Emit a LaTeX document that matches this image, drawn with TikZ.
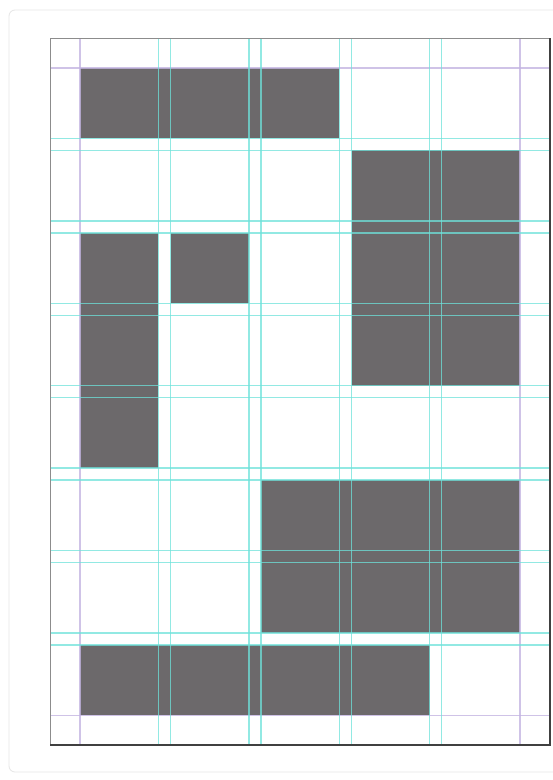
\documentclass[tikz,border=0pt]{standalone}
\begin{document}
\begin{tikzpicture}[x=1pt,y=-1pt,
  block/.style={fill=blockgray,draw=none},
  gridline/.style={draw=gridcyan,line width=1.4pt,opacity=0.75},
  marginline/.style={draw=marginlav,line width=1.1pt,opacity=0.8}]
\definecolor{blockgray}{RGB}{108,105,107}
\definecolor{gridcyan}{RGB}{110,226,218}
\definecolor{marginlav}{RGB}{195,180,225}
\definecolor{framegray}{RGB}{230,230,230}
\useasboundingbox (0,0) rectangle (553,780);
\fill[white] (0,0) rectangle (553,780);
% outer faint frame
\draw[framegray,line width=0.8pt,rounded corners=6pt] (9,10) rectangle (575,772);
% page
\fill[white] (50,38) rectangle (550,745);
% blocks
\fill[block] (80,68) rectangle (339,138.4);
\fill[block] (352,150.4) rectangle (520,385.6);
\fill[block] (80,232.8) rectangle (158,468);
\fill[block] (171,232.8) rectangle (249,303.2);
\fill[block] (261,480) rectangle (520,632.8);
\fill[block] (80,644.8) rectangle (430,715.2);
% margin guides
\foreach \x in {80,520} \draw[marginline] (\x,38) -- (\x,745);
\foreach \y in {68,715.2} \draw[marginline] (50,\y) -- (550,\y);
% column guides
\foreach \x in {158.4,170.4,248.8,260.8,339.2,351.2,429.6,441.6}
  \draw[gridline] (\x,38) -- (\x,745);
% row guides
\foreach \y in {138.4,150.4,220.8,232.8,303.2,315.2,385.6,397.6,468,480,550.4,562.4,632.8,644.8}
  \draw[gridline] (50,\y) -- (550,\y);
% page border with shadow
\draw[gray!90,line width=1pt] (50,745) -- (50,38) -- (550,38);
\draw[black!75,line width=1.8pt] (550,38) -- (550,745) -- (50,745);
\end{tikzpicture}
\end{document}
